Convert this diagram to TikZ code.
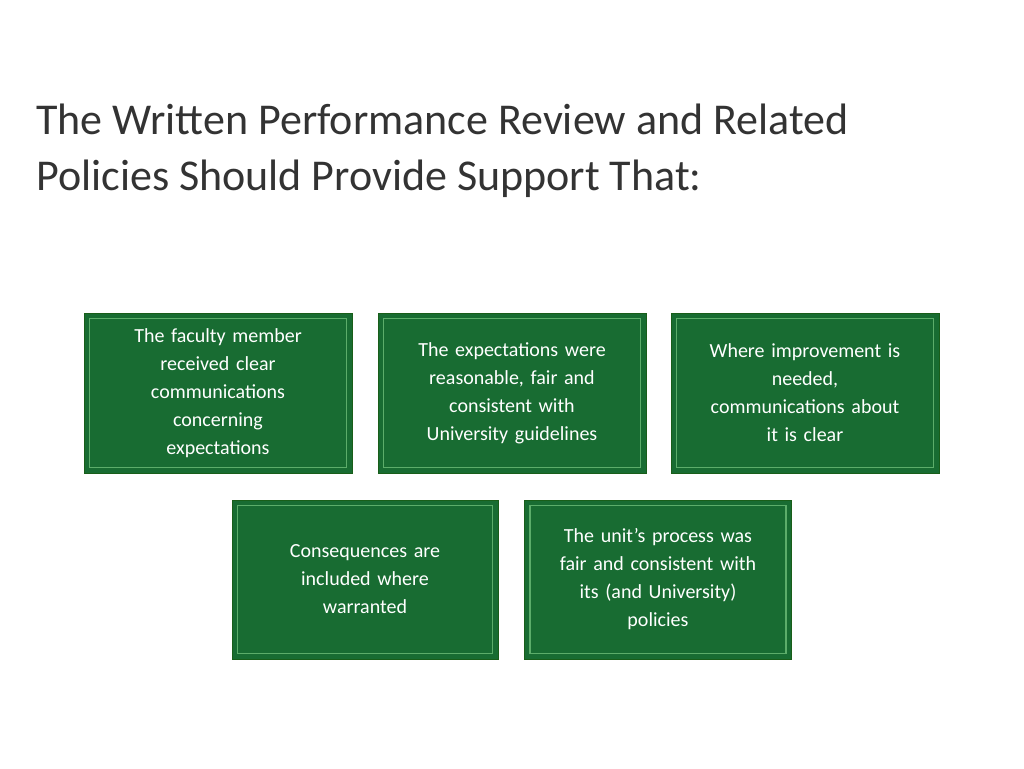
\documentclass[tikz,border=0pt]{standalone}
\usepackage{fontspec}
\setmainfont{Carlito}
\begin{document}
\begin{tikzpicture}[x=1pt,y=-1pt,
  gbox/.style={draw=green!30!black!90, line width=1pt, fill=boxg, minimum width=268pt, minimum height=160pt, text=white, align=center, font=\fontsize{20}{28}\selectfont, inner sep=0pt, text width=250pt},
  bevel/.style={draw=lightg, line width=1.2pt, opacity=0.8}]
\definecolor{boxg}{RGB}{24,108,50}
\definecolor{lightg}{RGB}{110,190,120}
\useasboundingbox (0,0) rectangle (1024,768);
\node[anchor=north west, align=left, font=\fontsize{44}{56}\selectfont, text=black!80, inner sep=0pt] (title) at (36,104) {The Written Performance Review and Related\\Policies Should Provide Support That:};
\node[gbox] (b1) at (218,393) {The faculty member\\received clear\\communications\\concerning\\expectations};
\node[gbox] (b2) at (512,393) {The expectations were\\reasonable, fair and\\consistent with\\University guidelines};
\node[gbox] (b3) at (805,393) {Where improvement is\\needed,\\communications about\\it is clear};
\node[gbox, minimum width=266pt, minimum height=159pt] (b4) at (365,579.5) {Consequences are\\included where\\warranted};
\node[gbox, minimum width=267pt, minimum height=159pt] (b5) at (658,579.5) {The unit’s process was\\fair and consistent with\\its (and University)\\policies};
\foreach \n in {b1,b2,b3,b4,b5}{
  \draw[bevel] ([shift={(6,6)}]\n.north west) -- ([shift={(-6,6)}]\n.north east) -- ([shift={(-6,-6)}]\n.south east) -- ([shift={(6,-6)}]\n.south west) -- cycle;
}
\end{tikzpicture}
\end{document}
